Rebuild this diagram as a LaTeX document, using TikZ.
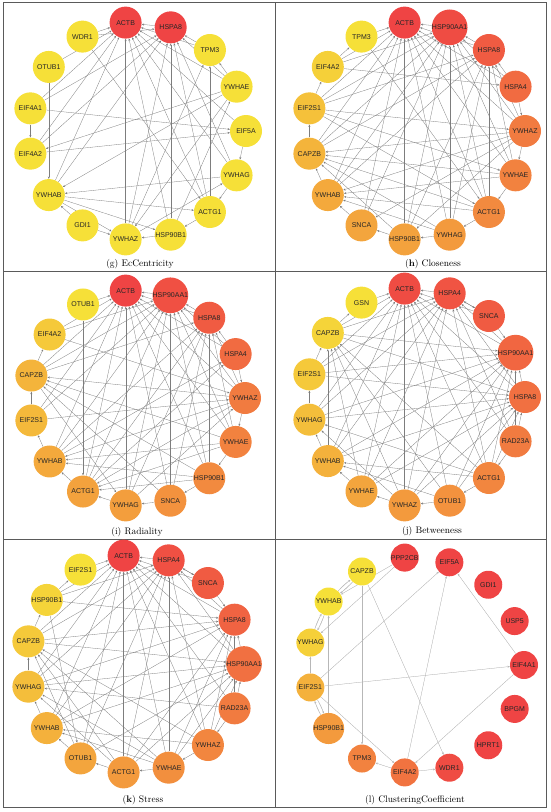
\documentclass[tikz,border=0pt]{standalone}
\usepackage{fontspec}
\newfontfamily\genefont{Liberation Sans}
\usetikzlibrary{arrows.meta,backgrounds}
\definecolor{hubred}{RGB}{239,68,68}
\definecolor{hubyellow}{RGB}{246,224,56}
\definecolor{framegray}{RGB}{90,90,90}
\definecolor{linkgray}{RGB}{125,125,125}

\begin{document}
\begin{tikzpicture}[
  x=1pt,y=-1pt,
  >=Stealth,
  gene/.style={circle,minimum size=32pt,inner sep=0pt,text=black!85,
    font=\genefont\fontsize{7}{8}\selectfont},
  link/.style={-{Stealth[length=2.4pt,width=2pt]},linkgray,line width=0.3pt},
  softlink/.style={link,draw=linkgray!55,fill=linkgray!55},
  caption/.style={font=\fontsize{9.5}{11}\selectfont}
]
  \useasboundingbox (0,0) rectangle (550,812);

  % frame of the six panels
  \draw[framegray,line width=0.8pt] (3,2) rectangle (546,807);
  \draw[framegray,line width=0.8pt] (275,2) -- (275,807);
  \draw[framegray,line width=0.8pt] (3,271) -- (546,271);
  \draw[framegray,line width=0.8pt] (3,539) -- (546,539);

  % (g) EcCentricity
  \foreach \i/\name/\yl in {0/ACTB/0,1/HSPA8/0,2/TPM3/100,3/YWHAE/100,
      4/EIF5A/100,5/YWHAG/100,6/ACTG1/100,7/HSP90B1/100,8/YWHAZ/100,
      9/GDI1/100,10/YWHAB/100,11/EIF4A2/100,12/EIF4A1/100,13/OTUB1/100,
      14/WDR1/100} {
    \node[gene,fill=hubyellow!\yl!hubred] (g\i)
      at ({137+109*cos(96-24*\i)},{131-109*sin(96-24*\i)}) {\name};
  }
  % (h) Closeness
  \foreach \i/\name/\yl in {0/ACTB/0,1/HSP90AA1/5,2/HSPA8/15,3/HSPA4/25,
      4/YWHAZ/35,5/YWHAE/40,6/ACTG1/45,7/YWHAG/55,8/HSP90B1/60,9/SNCA/62,
      10/YWHAB/65,11/CAPZB/72,12/EIF2S1/80,13/EIF4A2/90,14/TPM3/100} {
    \node[gene,fill=hubyellow!\yl!hubred] (h\i)
      at ({416+109*cos(96-24*\i)},{131-109*sin(96-24*\i)}) {\name};
  }
  % (i) Radiality
  \foreach \i/\name/\yl in {0/ACTB/0,1/HSP90AA1/8,2/HSPA8/15,3/HSPA4/25,
      4/YWHAZ/35,5/YWHAE/40,6/HSP90B1/45,7/SNCA/50,8/YWHAG/58,9/ACTG1/60,
      10/YWHAB/65,11/EIF2S1/75,12/CAPZB/72,13/EIF4A2/85,14/OTUB1/100} {
    \node[gene,fill=hubyellow!\yl!hubred] (i\i)
      at ({137+108*cos(96-24*\i)},{398-108*sin(96-24*\i)}) {\name};
  }
  % (j) Betweeness
  \foreach \i/\name/\yl in {0/ACTB/5,1/HSPA4/10,2/SNCA/15,3/HSP90AA1/22,
      4/HSPA8/28,5/RAD23A/35,6/ACTG1/42,7/OTUB1/50,8/YWHAZ/55,9/YWHAE/62,
      10/YWHAB/70,11/YWHAG/78,12/EIF2S1/85,13/CAPZB/92,14/GSN/100} {
    \node[gene,fill=hubyellow!\yl!hubred] (j\i)
      at ({416+109*cos(96-24*\i)},{397-109*sin(96-24*\i)}) {\name};
  }
  % (k) Stress
  \foreach \i/\name/\yl in {0/ACTB/0,1/HSPA4/8,2/SNCA/15,3/HSPA8/20,
      4/HSP90AA1/28,5/RAD23A/35,6/YWHAZ/42,7/YWHAE/48,8/ACTG1/55,9/OTUB1/62,
      10/YWHAB/70,11/YWHAG/78,12/CAPZB/85,13/HSP90B1/92,14/EIF2S1/100} {
    \node[gene,fill=hubyellow!\yl!hubred] (k\i)
      at ({135+109*cos(96-24*\i)},{664-109*sin(96-24*\i)}) {\name};
  }
  % (l) ClusteringCoefficient
  \foreach \i/\name/\yl in {0/PPP2CB/0,1/EIF5A/0,2/GDI1/0,3/USP5/0,
      4/EIF4A1/0,5/BPGM/0,6/HPRT1/0,7/WDR1/5,8/EIF4A2/30,9/TPM3/40,
      10/HSP90B1/55,11/EIF2S1/70,12/YWHAG/90,13/YWHAB/100,14/CAPZB/100} {
    \node[gene,minimum size=28pt,fill=hubyellow!\yl!hubred] (l\i)
      at ({416+108*cos(96-24*\i)},{665-108*sin(96-24*\i)}) {\name};
  }

  \begin{pgfonlayer}{background}
    \foreach \a/\b in {1/0,2/0,3/0,4/0,5/0,6/0,7/0,8/0,10/0,11/0,12/0,13/0,
        14/0,2/1,3/1,5/1,6/1,7/1,8/1,10/1,11/1,12/1,14/1,12/11,12/4,11/4,
        13/10,14/6,3/2,3/8,3/10,3/11,4/5,5/6,5/10,6/7,7/8,9/8,10/8,10/6,6/2,
        7/3,8/5,9/10,10/7,8/2} {
      \draw[link] (g\a) -- (g\b);
    }
    \foreach \a/\b in {1/0,2/0,3/0,4/0,5/0,6/0,7/0,8/0,9/0,10/0,11/0,12/0,
        13/0,14/0,2/1,3/1,4/1,5/1,6/1,7/1,8/1,9/1,10/1,11/1,12/1,13/1,3/2,
        4/2,5/2,6/2,7/2,8/2,10/2,11/2,12/2,3/4,4/5,5/6,6/7,7/8,8/9,9/10,
        10/11,11/12,12/13,13/14,4/11,5/10,5/11,6/11,6/10,7/10,7/11,8/11,4/8,
        4/9,4/10,12/4,12/5,13/3,14/6,12/6} {
      \draw[link] (h\a) -- (h\b);
    }
    \foreach \a/\b in {1/0,2/0,3/0,4/0,5/0,6/0,7/0,8/0,9/0,10/0,11/0,12/0,
        13/0,14/0,2/1,3/1,4/1,5/1,6/1,7/1,8/1,9/1,10/1,11/1,12/1,13/1,3/2,
        4/2,5/2,6/2,7/2,8/2,9/2,10/2,12/2,3/4,4/5,5/6,6/7,7/8,8/9,9/10,
        10/11,11/12,12/13,4/12,4/10,4/9,5/12,5/10,5/9,6/9,6/10,7/12,8/4,
        9/3,10/3,11/4,13/4,14/9,12/8,6/12} {
      \draw[link] (i\a) -- (i\b);
    }
    \foreach \a/\b in {1/0,2/0,3/0,4/0,5/0,6/0,7/0,8/0,9/0,10/0,11/0,12/0,
        13/0,14/0,2/1,3/1,4/1,5/1,6/1,8/1,9/1,10/1,11/1,12/1,13/1,4/3,5/3,
        6/3,7/3,8/3,9/3,10/3,11/3,12/3,13/3,5/4,6/4,7/4,8/4,9/4,10/4,11/4,
        12/4,13/4,1/2,2/3,5/6,6/7,7/8,8/9,9/10,10/11,11/12,12/13,13/14,6/13,
        6/11,6/10,7/10,7/13,8/13,8/11,9/13,10/13} {
      \draw[link] (j\a) -- (j\b);
    }
    \foreach \a/\b in {1/0,2/0,3/0,4/0,5/0,6/0,7/0,8/0,9/0,10/0,11/0,12/0,
        13/0,14/0,2/1,3/1,4/1,6/1,7/1,8/1,9/1,10/1,11/1,12/1,13/1,4/3,5/3,
        6/3,7/3,8/3,10/3,11/3,12/3,13/3,5/4,6/4,7/4,8/4,9/4,10/4,11/4,12/4,
        1/2,2/3,5/6,6/7,7/8,8/9,9/10,10/11,11/12,12/13,13/14,7/10,7/11,7/12,
        6/10,6/12,8/12,9/12,8/11,5/11,13/9} {
      \draw[link] (k\a) -- (k\b);
    }
    \foreach \a/\b in {0/13,0/12,14/9,14/7,11/1,11/4,11/8,8/9,8/1,4/1,4/8,
        8/7,10/13,11/12} {
      \draw[softlink] (l\a) -- (l\b);
    }
    \foreach \a/\b in {14/13,13/14,13/12,12/13,11/10,10/11} {
      \draw[softlink] (l\a) to[bend left=6] (l\b);
    }
  \end{pgfonlayer}

  \node[caption] (gcap) at (140,264) {(g) EcCentricity};
  \node[caption] (hcap) at (433,264) {(\textbf{h}) Closeness};
  \node[caption] (icap) at (137,532) {(i) Radiality};
  \node[caption] (jcap) at (432,531) {(j) Betweeness};
  \node[caption] (kcap) at (143,800) {(\textbf{k}) Stress};
  \node[caption] (lcap) at (415,800) {(l) ClusteringCoefficient};
\end{tikzpicture}
\end{document}
